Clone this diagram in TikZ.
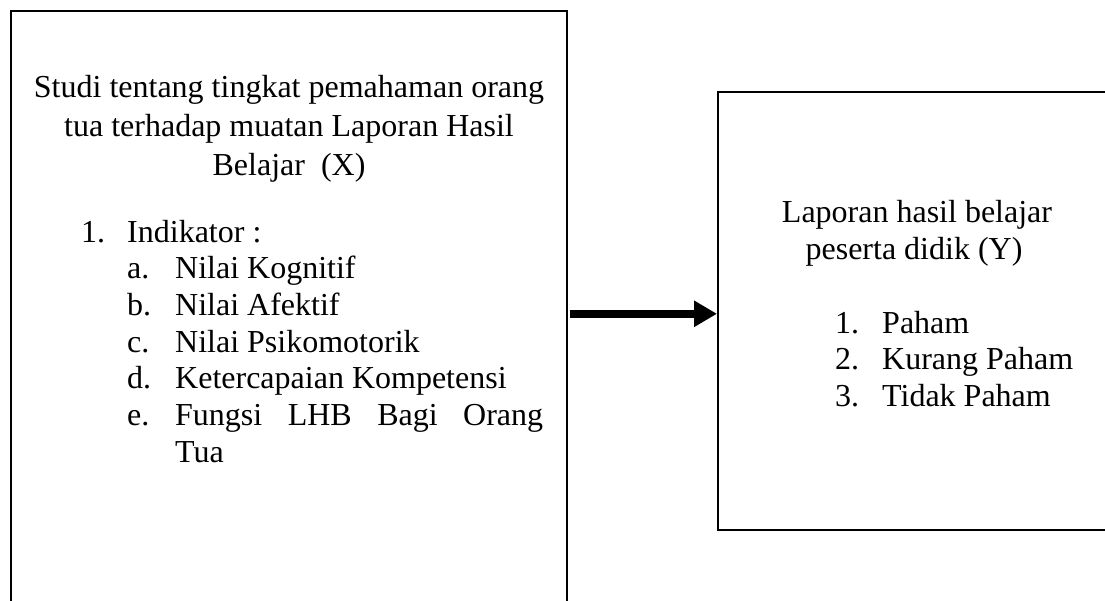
\documentclass[tikz,border=0pt]{standalone}
\usepackage{fontspec}
\setmainfont{Liberation Serif}
\usetikzlibrary{arrows.meta,calc}
\begin{document}
\begin{tikzpicture}[x=1pt,y=-1pt,
  box/.style={draw=black,line width=1.6pt,inner sep=0pt,anchor=north west},
  txt/.style={inner sep=0pt,font=\fontsize{32}{37}\selectfont},
  ctr/.style={txt,anchor=base},
  lft/.style={txt,anchor=base west},
  arr/.style={line width=7.5pt,-{Triangle[length=23pt,width=25pt]}}]
\clip (0,0) rectangle (1105,600);
\fill[white] (0,0) rectangle (1105,600);
% boxes
\node[box,minimum width=556pt,minimum height=620pt] (L) at (10,10) {};
\node[box,minimum width=396pt,minimum height=438pt] (R) at (717,91) {};
% left text
\node[ctr] (l1) at (289,97) {Studi tentang tingkat pemahaman orang};
\node[ctr] (l2) at (289,136) {tua terhadap muatan Laporan Hasil};
\node[ctr] (l3) at (289,175) {Belajar\ \ (X)};
\node[lft] (n1) at (81,242) {1.};
\node[lft] (i1) at (127,242) {Indikator :};
\node[lft] (na) at (127,278) {a.};
\node[lft] (ia) at (175,278) {Nilai Kognitif};
\node[lft] (nb) at (127,315) {b.};
\node[lft] (ib) at (175,315) {Nilai Afektif};
\node[lft] (nc) at (127,352) {c.};
\node[lft] (ic) at (175,352) {Nilai Psikomotorik};
\node[lft] (nd) at (127,388) {d.};
\node[lft] (id) at (175,388) {Ketercapaian Kompetensi};
\node[lft] (ne) at (127,425) {e.};
\node[lft] (ie) at (175,425) {\makebox[368pt][s]{Fungsi LHB Bagi Orang}};
\node[lft] (ie2) at (175,462) {Tua};
% right text
\node[ctr] (r1) at (917,222) {Laporan hasil belajar};
\node[ctr] (r2) at (914,259) {peserta didik (Y)};
\node[lft] (m1) at (835,333) {1.};
\node[lft] (p1) at (882,333) {Paham};
\node[lft] (m2) at (835,369) {2.};
\node[lft] (p2) at (882,369) {Kurang Paham};
\node[lft] (m3) at (835,406) {3.};
\node[lft] (p3) at (882,406) {Tidak Paham};
% arrow
\coordinate (as) at ($(L.east |- R.west)+(2,3)$);
\coordinate (ae) at ($(R.west)+(0,3)$);
\draw[arr] (as) -- (ae);
\end{tikzpicture}
\end{document}
